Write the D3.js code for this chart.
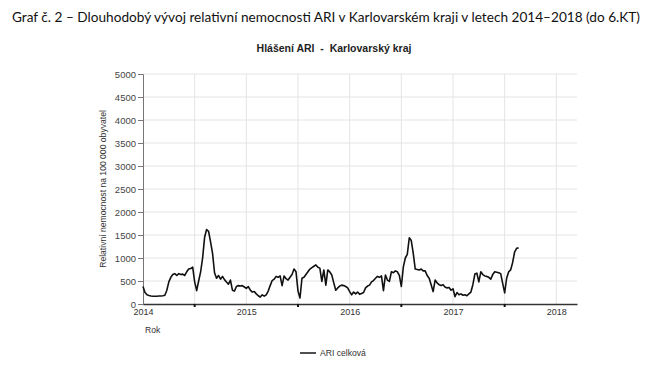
<!DOCTYPE html>
<html>
<head>
<meta charset="utf-8">
<script src="https://cdn.jsdelivr.net/npm/d3@7"></script>
<style>
  body { margin: 0; background: #fff; }
  svg { display: block; }
</style>
</head>
<body>
<svg id="chart" width="652" height="375"></svg>
<script>
// weekly values, first point = start of 2014 on the axis
var ariValues = [
  380, 250, 200, 185, 175, 170, 170, 170, 175, 175, 180, 190,
  300, 480, 580, 640, 660, 620, 660, 640, 650, 620, 700, 760,
  770, 800, 480, 290, 500, 700, 1000, 1450, 1620, 1580, 1350, 1100,
  680, 560, 620, 540, 600, 530, 480, 430, 520, 300, 280, 380,
  400, 390, 400, 370, 340, 380, 300, 260, 270, 220, 180, 150,
  200, 170, 200, 280, 400, 510, 540, 600, 580, 610, 400, 610,
  550, 520, 580, 640, 760, 700, 280, 130, 560, 580, 640, 700,
  760, 790, 820, 850, 800, 780, 490, 740, 410, 740, 700, 630,
  460, 300, 350, 390, 410, 400, 380, 350, 270, 200, 260, 220,
  260, 210, 230, 250, 350, 390, 410, 480, 510, 560, 600, 580,
  610, 290, 630, 520, 490, 700, 680, 720, 700, 620, 380, 800,
  1000, 1080, 1440, 1380, 1100, 760, 750, 740, 760, 720, 720, 620,
  560, 420, 270, 520, 460, 420, 400, 420, 370, 350, 360, 300,
  330, 160, 250, 200, 220, 190, 200, 180, 220, 260, 420, 650,
  670, 480, 700, 640, 610, 600, 580, 540, 640, 700, 690, 680,
  660, 450, 240, 560, 700, 740, 900, 1130, 1210, 1220
];
var startYear = 2014;
var weeksPerYear = 52;
var yearTicks = [2014, 2015, 2016, 2017, 2018];
var midTicks = [2014.5, 2015.5, 2016.5, 2017.5];
var yTicks = [0, 500, 1000, 1500, 2000, 2500, 3000, 3500, 4000, 4500, 5000];

var titleText = "Graf č. 2 – Dlouhodobý vývoj relativní nemocnosti ARI v Karlovarském kraji v letech 2014–2018 (do 6.KT)";
var chartTitle = "Hlášení ARI  -  Karlovarský kraj";
var yLabel = "Relativní nemocnost na 100 000 obyvatel";
var xLabel = "Rok";
var seriesName = "ARI celková";

var margin = {top: 74, left: 143, right: 75, bottom: 71};
var W = 652, H = 375;
var width = W - margin.left - margin.right,
    height = H - margin.top - margin.bottom;

var svg = d3.select("#chart");

svg.append("text")
  .attr("x", 326).attr("y", 22)
  .attr("text-anchor", "middle")
  .attr("font-family", "Lato, 'Noto Sans', sans-serif")
  .attr("font-size", "13.3px")
  .attr("textLength", 628)
  .attr("lengthAdjust", "spacingAndGlyphs")
  .attr("fill", "#111")
  .text(titleText);

svg.append("text")
  .attr("x", 334).attr("y", 52)
  .attr("text-anchor", "middle")
  .attr("font-family", "'Liberation Sans', Arial, sans-serif")
  .attr("font-weight", "bold")
  .attr("font-size", "10.5px")
  .attr("fill", "#222")
  .style("white-space", "pre")
  .text(chartTitle);

var g = svg.append("g")
  .attr("transform", "translate(" + margin.left + "," + margin.top + ")");

var x = d3.scaleLinear()
  .domain([2014, 2018.2])
  .range([0, width]);

var y = d3.scaleLinear()
  .domain([0, 5000])
  .range([height, 0]);

// grid
g.append("g")
  .selectAll("line")
  .data(yTicks.filter(function(d) { return d > 0; }))
  .enter().append("line")
  .attr("x1", 0).attr("x2", width)
  .attr("y1", function(d) { return y(d); })
  .attr("y2", function(d) { return y(d); })
  .attr("stroke", "#e4e4e4");

g.append("g")
  .selectAll("line")
  .data(midTicks.concat(yearTicks.slice(1)))
  .enter().append("line")
  .attr("x1", function(d) { return x(d); })
  .attr("x2", function(d) { return x(d); })
  .attr("y1", 0).attr("y2", height)
  .attr("stroke", "#e4e4e4");

// y axis
var yAxis = g.append("g")
  .call(d3.axisLeft(y).tickValues(yTicks).tickFormat(d3.format("d")).tickSize(5).tickPadding(2))
  .attr("font-family", "'Liberation Sans', Arial, sans-serif")
  .attr("font-size", "9.5px");
yAxis.select(".domain").attr("stroke", "#777");
yAxis.selectAll(".tick line").attr("stroke", "#777");
yAxis.selectAll(".tick text").attr("fill", "#444");

// x axis
var xAxis = g.append("g")
  .attr("transform", "translate(0," + height + ")")
  .call(d3.axisBottom(x).tickValues(yearTicks).tickFormat(d3.format("d")).tickSize(0).tickPadding(5))
  .attr("font-family", "'Liberation Sans', Arial, sans-serif")
  .attr("font-size", "9px");
xAxis.select(".domain").attr("stroke", "#333").attr("stroke-width", 1.3);
xAxis.selectAll(".tick text").attr("fill", "#333");

g.append("g")
  .selectAll("line")
  .data(midTicks)
  .enter().append("line")
  .attr("x1", function(d) { return x(d); })
  .attr("x2", function(d) { return x(d); })
  .attr("y1", height).attr("y2", height + 3)
  .attr("stroke", "#111")
  .attr("stroke-width", 2);

// axis titles
svg.append("text")
  .attr("transform", "translate(106," + (margin.top + height / 2) + ") rotate(-90)")
  .attr("text-anchor", "middle")
  .attr("font-family", "'Liberation Sans', Arial, sans-serif")
  .attr("font-size", "8.6px")
  .attr("fill", "#333")
  .text(yLabel);

svg.append("text")
  .attr("x", 145).attr("y", 333)
  .attr("font-family", "'Liberation Sans', Arial, sans-serif")
  .attr("font-size", "8.6px")
  .attr("fill", "#333")
  .text(xLabel);

// series
var line = d3.line()
  .x(function(d, i) { return x(startYear + i / weeksPerYear); })
  .y(function(d) { return y(d); });

g.append("path")
  .datum(ariValues)
  .attr("d", line)
  .attr("fill", "none")
  .attr("stroke", "#111")
  .attr("stroke-width", 1.6)
  .attr("stroke-linejoin", "round");

// legend
svg.append("line")
  .attr("x1", 300).attr("x2", 316)
  .attr("y1", 353).attr("y2", 353)
  .attr("stroke", "#222").attr("stroke-width", 1.6);
svg.append("text")
  .attr("x", 320).attr("y", 356)
  .attr("font-family", "'Liberation Sans', Arial, sans-serif")
  .attr("font-size", "8.6px")
  .attr("fill", "#333")
  .text(seriesName);
</script>
</body>
</html>
